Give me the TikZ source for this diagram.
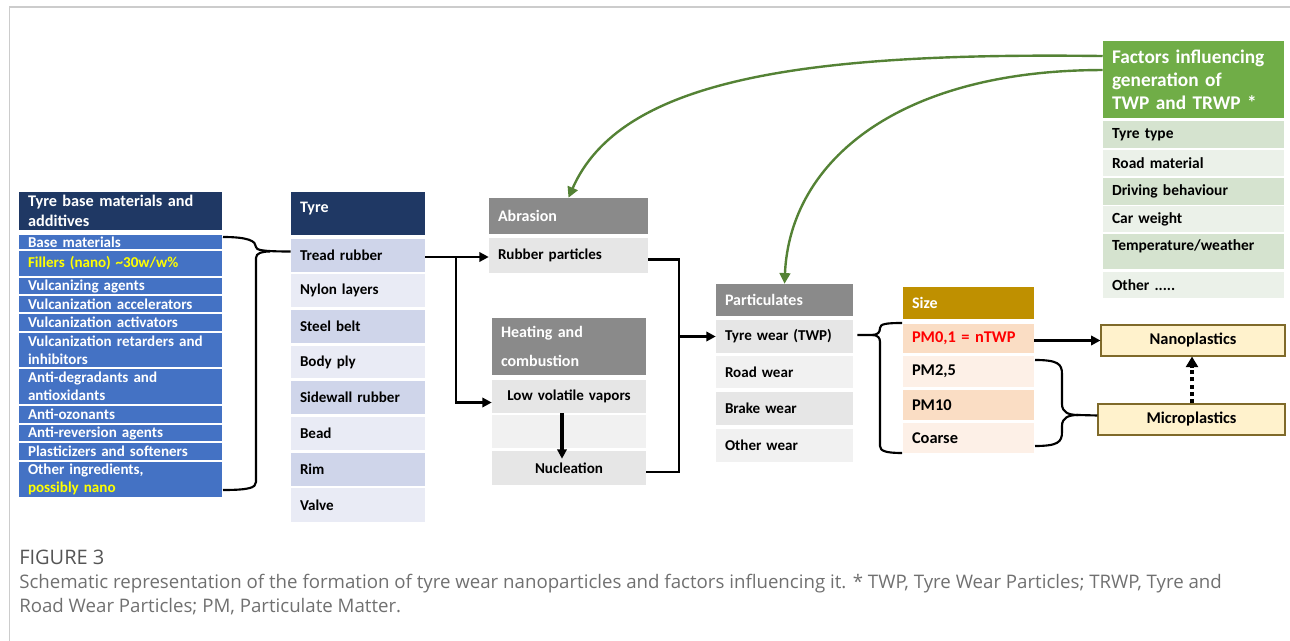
\documentclass[tikz,border=0pt]{standalone}
\usepackage{fontspec}
\setmainfont{Carlito}
\newfontfamily\capfont{Open Sans}
\usetikzlibrary{arrows.meta,calc}
\definecolor{navy}{HTML}{1F3864}
\definecolor{blueitem}{HTML}{4472C4}
\definecolor{yel}{HTML}{FFFF00}
\definecolor{lavd}{HTML}{CFD5EA}
\definecolor{lavl}{HTML}{E9EBF5}
\definecolor{grayhd}{HTML}{8A8A8A}
\definecolor{grayd}{HTML}{E6E6E6}
\definecolor{grayl}{HTML}{F1F1F1}
\definecolor{gold}{HTML}{BF9000}
\definecolor{peachd}{HTML}{FADDC4}
\definecolor{peachl}{HTML}{FDF0E7}
\definecolor{yelbox}{HTML}{FFF2CC}
\definecolor{yelbord}{HTML}{7F6A2A}
\definecolor{greenhd}{HTML}{70AD47}
\definecolor{greend}{HTML}{D5E3CF}
\definecolor{greenl}{HTML}{EBF1E9}
\definecolor{gline}{HTML}{548235}
\definecolor{redtxt}{HTML}{FF0000}
\definecolor{framecol}{HTML}{CCCCCC}
\definecolor{capgray}{HTML}{707070}
\definecolor{figgray}{HTML}{555555}
\newcommand\itemfont{\bfseries\fontsize{11.3}{13.5}\selectfont}
\newcommand\hdrfont{\bfseries\fontsize{12}{15}\selectfont}
\newcommand\cellbox[7]{%
 \pgfmathsetmacro\cbw{(#4-#2)*0.75}%
 \pgfmathsetmacro\cbh{(#5-#3)*0.75}%
 \pgfmathsetmacro\cbt{(#4-#2)*0.75-13.5}%
 \node[cellbase,minimum width=\cbw pt,minimum height=\cbh pt,text width=\cbt pt,#6] (#1) at ({(#2+#4)/2},{(#3+#5)/2}) {#7};}
\tikzset{
 cellbase/.style={rectangle, inner xsep=6.75pt, inner ysep=0pt, align=left, font=\itemfont, text=black},
 hdr/.style={font=\hdrfont, text=white},
 ctr/.style={align=center},
 bigitem/.style={font=\bfseries\fontsize{12.3}{14}\selectfont},
 conn/.style={line width=1.8pt, black},
 arr/.style={-{Triangle[length=7pt,width=7pt]}},
 brc/.style={line width=1.6pt, black},
 gcurve/.style={line width=1.8pt, gline, -{Triangle[length=8pt,width=8pt]}},
 plastic/.style={fill=yelbox, draw=yelbord, line width=0.8pt, align=center, bigitem},
 captext/.style={anchor=base west, inner sep=0pt, font=\capfont\fontsize{14}{18}\selectfont, text=capgray},
}
\begin{document}
\begin{tikzpicture}[x=0.75pt,y=-0.75pt]
\useasboundingbox (0,0) rectangle (1290,641);
\draw[framecol, line width=0.8pt] (9.5,641) -- (9.5,7) -- (1290,7);
% left column
\cellbox{lh}{19}{192}{222}{230}{hdr,fill=navy,font=\bfseries\fontsize{12.2}{15}\selectfont}{Tyre base materials and\\additives}
\tikzset{lb/.style={fill=blueitem,text=white}}
\cellbox{l1}{19}{235}{222}{249}{lb}{Base materials}
\cellbox{l2}{19}{251}{222}{276}{lb}{\textcolor{yel}{Fillers (nano) \textasciitilde30w/w\%}}
\cellbox{l3}{19}{278}{222}{294}{lb}{Vulcanizing agents}
\cellbox{l4}{19}{296}{222}{312}{lb}{Vulcanization accelerators}
\cellbox{l5}{19}{314}{222}{331}{lb}{Vulcanization activators}
\cellbox{l6}{19}{333}{222}{367}{lb}{Vulcanization retarders and\\inhibitors}
\cellbox{l7}{19}{369}{222}{404}{lb}{Anti-degradants and\\antioxidants}
\cellbox{l8}{19}{406}{222}{423}{lb}{Anti-ozonants}
\cellbox{l9}{19}{425}{222}{441}{lb}{Anti-reversion agents}
\cellbox{l10}{19}{443}{222}{460}{lb}{Plasticizers and softeners}
\cellbox{l11}{19}{462}{222}{497}{lb}{Other ingredients,\\\textcolor{yel}{possibly nano}}
% tyre column
\cellbox{th}{291}{192}{425}{235}{hdr,fill=navy}{Tyre\\[-5pt]\mbox{}}
\cellbox{tread}{291}{239}{425}{272}{fill=lavd}{Tread rubber}
\cellbox{nylon}{291}{274}{425}{307}{fill=lavl}{Nylon layers}
\cellbox{steel}{291}{310}{425}{343}{fill=lavd}{Steel belt}
\cellbox{body}{291}{346}{425}{378}{fill=lavl}{Body ply}
\cellbox{side}{291}{381}{425}{414}{fill=lavd}{Sidewall rubber}
\cellbox{bead}{291}{417}{425}{450}{fill=lavl}{Bead}
\cellbox{rim}{291}{453}{425}{486}{fill=lavd}{Rim}
\cellbox{valve}{291}{488}{425}{522}{fill=lavl}{Valve}
% abrasion / heating
\cellbox{abr}{489}{198}{648}{234}{hdr,fill=grayhd}{Abrasion}
\cellbox{rubber}{489}{238}{648}{273}{fill=grayd}{Rubber particles}
\cellbox{heat}{492}{318}{646}{375}{hdr,fill=grayhd,font=\bfseries\fontsize{12}{21.75}\selectfont}{Heating and\\combustion}
\cellbox{lowvol}{492}{380}{646}{413}{fill=grayd,ctr}{Low volatile vapors}
\cellbox{empty}{492}{415}{646}{448}{fill=grayl}{}
\cellbox{nucl}{492}{451}{646}{485}{fill=grayd,ctr}{Nucleation}
% particulates
\cellbox{part}{716}{284}{853}{316}{hdr,fill=grayhd}{Particulates}
\cellbox{twp}{716}{320}{853}{353}{fill=grayd}{Tyre wear (TWP)}
\cellbox{road}{716}{356}{853}{388}{fill=grayl}{Road wear}
\cellbox{brake}{716}{392}{853}{425}{fill=grayd}{Brake wear}
\cellbox{otherw}{716}{429}{853}{462}{fill=grayl}{Other wear}
% size
\cellbox{size}{903}{287}{1034}{319}{hdr,fill=gold}{Size}
\cellbox{pm01}{903}{324}{1034}{353}{fill=peachd,text=redtxt,bigitem}{PM0,1 = nTWP}
\cellbox{pm25}{903}{356}{1034}{387}{fill=peachl,bigitem}{PM2,5}
\cellbox{pm10}{903}{390}{1034}{420}{fill=peachd,bigitem}{PM10}
\cellbox{coarse}{903}{423}{1034}{453}{fill=peachl,bigitem}{Coarse}
% plastics
\cellbox{nano}{1101}{325}{1285}{356}{plastic}{Nanoplastics}
\cellbox{micro}{1098}{404}{1285}{435}{plastic}{Microplastics}
% factors
\cellbox{fh}{1103}{41}{1284}{118}{hdr,fill=greenhd,font=\bfseries\fontsize{14.5}{17.25}\selectfont}{Factors influencing\\generation of\\TWP and TRWP *}
\tikzset{fi/.style={font=\bfseries\fontsize{11.6}{13.5}\selectfont}}
\cellbox{f1}{1103}{121}{1284}{148}{fill=greend,fi}{Tyre type}
\cellbox{f2}{1103}{150}{1284}{176}{fill=greenl,fi}{Road material}
\cellbox{f3}{1103}{178}{1284}{205}{fill=greend,fi}{Driving behaviour}
\cellbox{f4}{1103}{206}{1284}{232}{fill=greenl,fi}{Car weight}
\cellbox{f5}{1103}{234}{1284}{269}{fill=greend,fi}{Temperature/weather\\[-4pt]\mbox{}}
\cellbox{f6}{1103}{272}{1284}{298}{fill=greenl,fi}{Other .....}
% brace left
\draw[brc] (223,237) .. controls (248,237) and (256,241) .. (256,247) .. controls (256,250) and (262,251.5) .. ([yshift=3pt]tread.west);
\draw[brc] (270,251.5) .. controls (262,251.5) and (256,253) .. (256,258) -- (256,482) .. controls (256,488) and (248,490) .. (223,490);
% tread to abrasion / heating
\coordinate (br1) at (456,257);
\draw[conn,arr] (tread.east |- br1) -- (rubber.west |- br1);
\draw[conn,arr] (br1) |- ([yshift=-4.5pt]lowvol.west);
\draw[line width=3pt,arr] ($(lowvol.south)+(-7,0)$) -- ($(nucl.north)+(-7,8)$);
% to particulates
\coordinate (jxx) at (679,0);
\coordinate (jx) at (twp.west -| jxx);
\draw[conn] ([yshift=-3pt]rubber.east) -| (jx) |- ([yshift=-3pt]nucl.east);
\draw[conn,arr] (jx) -- (twp.west);
% brace to size
\draw[brc] ($(twp.east)+(4,-1.5)$) -- (872,335) .. controls (878,335) and (880,332) .. (880,328) .. controls (880,324) and (886,323) .. (902,323);
\draw[brc] (872,335) .. controls (878,335) and (880,338) .. (880,342) -- (880,446) .. controls (880,451) and (886,453) .. (902,453);
% nano arrow
\draw[line width=2.4pt,arr] (pm01.east |- nano.west) -- (nano.west);
\draw[line width=2.6pt,dash pattern=on 3pt off 2.5pt,-{Triangle[length=8pt,width=9pt]}] (micro.north -| 1192,0) -- (nano.south -| 1192,0);
% brace to micro
\draw[brc] (1035,360) .. controls (1058,360) and (1062,364) .. (1062,374) -- (1062,404) .. controls (1062,412) and (1068,415) .. (1078,415) -- ([yshift=3pt]micro.west);
\draw[brc] (1035,446) .. controls (1058,446) and (1062,442) .. (1062,432) -- (1062,426) .. controls (1062,418) and (1068,415) .. (1078,415);
% green curves
\draw[gcurve] ([yshift=17.6pt]fh.west) .. controls (800,52) and (620,80) .. (abr.north);
\draw[gcurve] ([yshift=7.1pt]fh.west) .. controls (900,70) and (790,160) .. (part.north);
% caption
\node[anchor=base west, inner sep=0pt, font=\capfont\fontsize{15}{18}\selectfont, text=figgray] (figlbl) at (19,565) {FIGURE 3};
\node[captext] (cap1) at (19,589) {Schematic representation of the formation of tyre wear nanoparticles and factors influencing it. * TWP, Tyre Wear Particles; TRWP, Tyre and};
\node[captext] (cap2) at (19,613) {Road Wear Particles; PM, Particulate Matter.};
\end{tikzpicture}
\end{document}
